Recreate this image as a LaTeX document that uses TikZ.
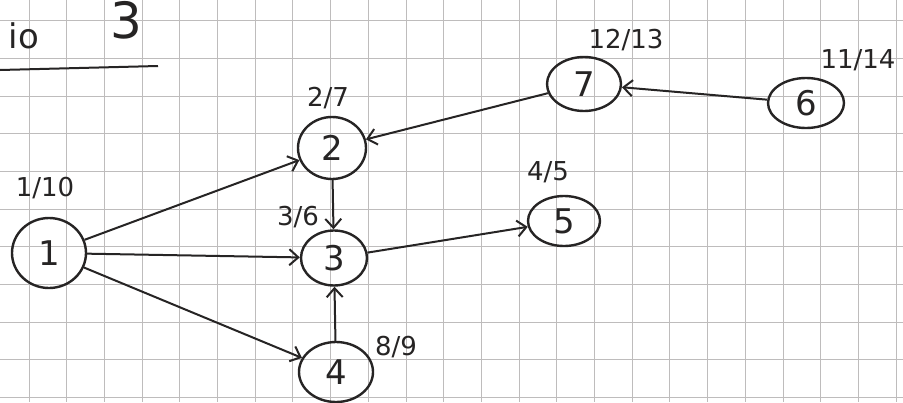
\documentclass[tikz,border=0pt]{standalone}
\usepackage{fontspec}
\setmainfont{DejaVu Sans}
\usetikzlibrary{shapes.geometric,arrows.meta}
\definecolor{ink}{RGB}{38,36,36}
\definecolor{gridc}{RGB}{190,188,188}
\tikzset{
  gridline/.style={draw=gridc,line width=0.9pt},
  vert/.style={ellipse,draw=ink,line width=2.4pt,inner sep=0pt,text=ink,font=\fontsize{34}{34}\selectfont},
  lab/.style={text=ink,inner sep=0pt,font=\fontsize{26}{26}\selectfont},
  edge/.style={draw=ink,line width=2pt,-{Straight Barb[length=9pt,width=16pt,line width=2pt]}},
  title/.style={text=ink,inner sep=0pt}
}
\begin{document}
\begin{tikzpicture}[x=1pt,y=-1pt]
\useasboundingbox (0,0) rectangle (903,402);
\fill[white] (0,0) rectangle (903,402);
\foreach \i in {0,...,23} \draw[gridline] ({29+37.7*\i},0) -- ({29+37.7*\i},402);
\foreach \j in {0,...,10} \draw[gridline] (0,{20.6+37.7*\j}) -- (903,{20.6+37.7*\j});
% title
\node[title,font=\fontsize{34}{34}\selectfont] (tio) at (24,36) {io};
\node[title,font=\fontsize{50}{50}\selectfont] (tthree) at (126,20) {3};
\coordinate (ua) at (0,70);
\coordinate (ub) at (158,66);
\draw[draw=ink,line width=2pt] (ua) -- (ub);
% vertices
\node[vert,minimum width=74pt,minimum height=70pt] (n1) at (49,253) {1};
\node[vert,minimum width=68pt,minimum height=62pt] (n2) at (332,148) {2};
\node[vert,minimum width=66pt,minimum height=55pt] (n3) at (334,258) {3};
\node[vert,minimum width=74pt,minimum height=60pt] (n4) at (336,372) {4};
\node[vert,minimum width=72pt,minimum height=50pt] (n5) at (564,221) {5};
\node[vert,minimum width=76pt,minimum height=50pt] (n6) at (806,103) {6};
\node[vert,minimum width=74pt,minimum height=54pt] (n7) at (584,84) {7};
% labels
\node[lab] (l1) at (45,188) {1/10};
\node[lab] (l2) at (328,98) {2/7};
\node[lab] (l3) at (298,217) {3/6};
\node[lab] (l4) at (396,347) {8/9};
\node[lab] (l5) at (548,172) {4/5};
\node[lab] (l6) at (858,60) {11/14};
\node[lab] (l7) at (626,40) {12/13};
% edges
\draw[edge] (n1) -- (n2);
\draw[edge] (n1) -- (n3);
\draw[edge] (n1) -- (n4);
\draw[edge] (n2) -- (n3);
\draw[edge] (n4) -- (n3);
\draw[edge] (n3) -- (n5);
\draw[edge] (n7) -- (n2);
\draw[edge] (n6) -- (n7);
\end{tikzpicture}
\end{document}
